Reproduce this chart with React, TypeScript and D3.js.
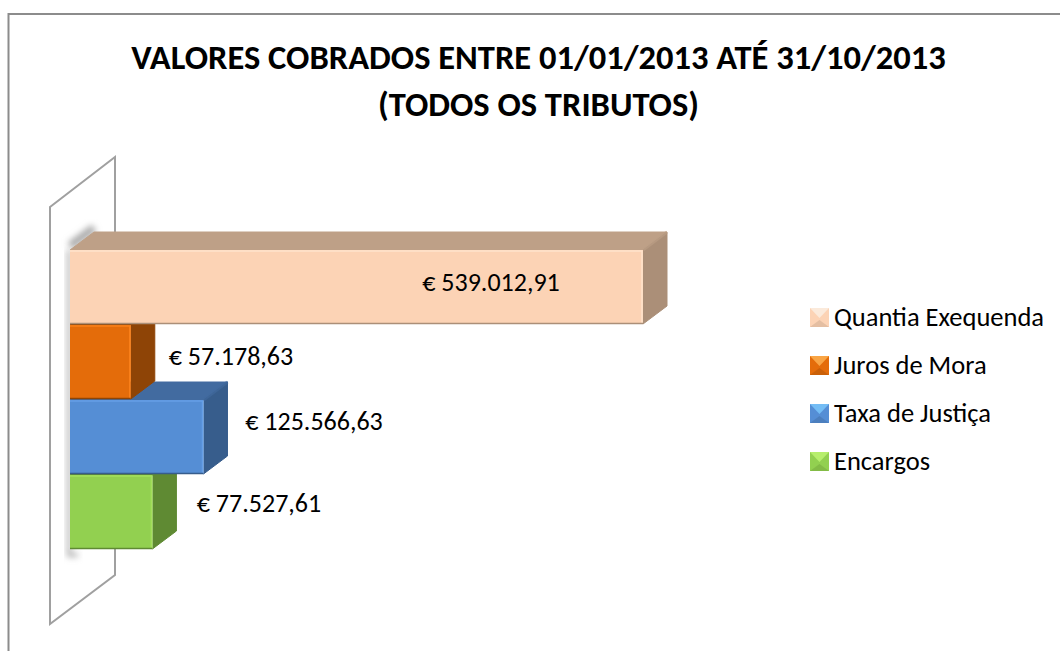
import React from 'react';
import * as d3 from 'd3';

const categories = ['Quantia Exequenda', 'Juros de Mora', 'Taxa de Justiça', 'Encargos'];
const values = [539012.91, 57178.63, 125566.63, 77527.61];
const valueLabels = ['€ 539.012,91', '€ 57.178,63', '€ 125.566,63', '€ 77.527,61'];
const frontColors = ['#fcd3b5', '#e46c0a', '#558ed5', '#92d050'];
const topColors = ['#bea087', '#8e4406', '#426ba0', '#5f8a33'];
const sideColors = ['#ab8f78', '#8e4406', '#375d8c', '#5f8a33'];
const lightColors = ['#fee3cc', '#f9801a', '#669fe6', '#a4e05c'];
const legendTop = ['#fbeadb', '#f9a545', '#74bdf5', '#b6ee6c'];
const titleLines = ['VALORES COBRADOS ENTRE 01/01/2013 ATÉ 31/10/2013', '(TODOS OS TRIBUTOS)'];

const FONT = 'Carlito, Calibri, "Open Sans", "Noto Sans", sans-serif';
const depthX = 24;
const depthY = 18;

const x = d3.scaleLinear().domain([0, 539012.91]).range([70, 643]);
const y = d3.scaleBand<string>().domain(categories).range([249, 549]).paddingInner(0).paddingOuter(0);
const legendY = d3.scalePoint<string>().domain(categories).range([317.5, 461.5]);

// label placement is per bar: the first one sits inside the bar
const labelX = [491, 231, 314, 259];
const labelDy = [4.5, 3, -6.5, 0];

function bar(i: number) {
  const x1 = x(values[i]);
  const y0 = y(categories[i])! + 1;
  const y1 = y0 + y.bandwidth() - 1;
  const line = d3.line();
  const top = line([[x(0), y0], [x(0) + depthX, y0 - depthY], [x1 + depthX, y0 - depthY], [x1, y0]]);
  const side = line([[x1, y0], [x1 + depthX, y0 - depthY], [x1 + depthX, y1 - depthY], [x1, y1]]);
  return { x1, y0, y1, top, side };
}

export default function App() {
  return (
    <svg width={1060} height={651} style={{ position: 'absolute', left: 0, top: 0, background: '#fff' }}>
      <defs>
        <filter id="blur" x="-50%" y="-50%" width="200%" height="200%">
          <feGaussianBlur stdDeviation="3" />
        </filter>
      </defs>
      <path d="M8.5,651V14H1060" fill="none" stroke="#8c8c8c" strokeWidth={2} />
      {titleLines.map((t, i) => (
        <text key={t} x={538.5} y={69 + i * 47} textAnchor="middle" fontFamily={FONT} fontSize={34.5} fontWeight={700} fill="#000">
          {t}
        </text>
      ))}
      <path d="M50,207L115,157V575L50,624Z" fill="#fff" stroke="#a0a0a0" strokeWidth={2} />
      <path d="M70,246L94,228" fill="none" stroke="#a8a8a8" strokeWidth={8} filter="url(#blur)" />
      <path d="M69,250V555H78" fill="none" stroke="#b0b0b0" strokeWidth={4} filter="url(#blur)" />
      {[3, 2, 1, 0].map((i) => {
        const b = bar(i);
        return (
          <g key={categories[i]}>
            <path d={b.top!} fill={topColors[i]} stroke={topColors[i]} strokeLinejoin="round" />
            <path d={b.side!} fill={sideColors[i]} stroke={sideColors[i]} strokeLinejoin="round" />
            <path d={`M${b.x1},${b.y0}l${depthX},${-depthY}`} stroke={topColors[i]} strokeWidth={3} opacity={0.6} />
            <rect x={x(0)} y={b.y0} width={b.x1 - x(0)} height={b.y1 - b.y0} fill={frontColors[i]} />
            <path d={`M${x(0)},${b.y0 + 1}H${b.x1 - 1}V${b.y1}`} fill="none" stroke={lightColors[i]} strokeWidth={1.5} />
            <path d={`M${x(0)},${b.y1 - 0.5}H${b.x1}`} fill="none" stroke={sideColors[i]} strokeWidth={1.5} />
          </g>
        );
      })}
      {values.map((v, i) => (
        <text key={v} x={labelX[i]} y={y(categories[i])! + y.bandwidth() / 2 + labelDy[i]} textAnchor="middle" fontFamily={FONT} fontSize={26} fill="#000">
          {valueLabels[i]}
        </text>
      ))}
      {categories.map((c, i) => {
        const ly = legendY(c)!;
        return (
          <g key={c}>
            <rect x={810} y={ly - 9.5} width={19} height={19} fill={frontColors[i]} />
            <path d={`M810,${ly - 9.5}h19l-9.5,10Z`} fill={legendTop[i]} />
            <path d={`M810,${ly + 9.5}l9.5,-7l9.5,7Z`} fill={sideColors[i]} opacity={0.3} />
            <text x={834} y={ly + 8} fontFamily={FONT} fontSize={26.5} fill="#000">
              {c}
            </text>
          </g>
        );
      })}
    </svg>
  );
}
